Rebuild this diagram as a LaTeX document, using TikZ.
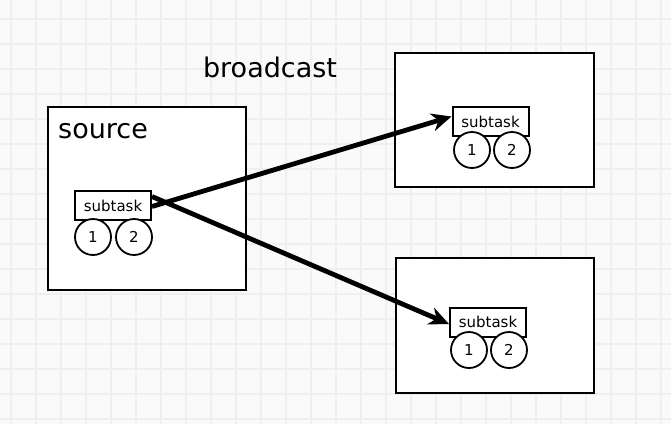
\documentclass[tikz,border=0pt]{standalone}
\usepackage{fontspec}
\setmainfont{DejaVu Sans}
\usetikzlibrary{arrows.meta}
\definecolor{bg}{HTML}{FAFAFA}
\definecolor{gridc}{HTML}{EFEFEF}
\tikzset{
  panel/.style={draw=black, line width=2.6pt, fill=white},
  taskbox/.style={draw=black, line width=2pt, fill=white, minimum width=76pt, minimum height=29pt, inner sep=0pt, font=\fontsize{15}{15}\selectfont},
  slot/.style={draw=black, line width=1.8pt, fill=white, circle, minimum size=36pt, inner sep=0pt, font=\fontsize{15}{15}\selectfont},
  bigtext/.style={font=\fontsize{27}{27}\selectfont, inner sep=0pt},
  flow/.style={line width=4.8pt, -{Stealth[length=20pt,width=18pt]}}
}
\begin{document}
\begin{tikzpicture}[x=1pt,y=-1pt]
\useasboundingbox (0,0) rectangle (671,424);
\fill[bg] (0,0) rectangle (671,424);
\foreach \gx in {11,36,...,671} \draw[gridc, line width=1.3pt] (\gx,0) -- (\gx,424);
\foreach \gy in {19,44,...,424} \draw[gridc, line width=1.3pt] (0,\gy) -- (671,\gy);

% panels
\draw[panel] (48,107) rectangle (246,290);
\draw[panel] (395,53) rectangle (594,187);
\draw[panel] (396,258) rectangle (594,393);

\node[bigtext, anchor=west] (srclabel) at (58,131) {source};
\node[bigtext] (bclabel) at (270,67) {broadcast};

% source subtask
\node[taskbox] (s) at (113,205.5) {subtask};
\node[slot] (s1) at (93,237) {1};
\node[slot] (s2) at (134,237) {2};

% top subtask
\node[taskbox] (t) at (490.5,121.5) {subtask};
\node[slot] (t1) at (472,150) {1};
\node[slot] (t2) at (512,150) {2};

% bottom subtask
\node[taskbox] (b) at (488,322) {subtask};
\node[slot] (b1) at (469,350) {1};
\node[slot] (b2) at (509,350) {2};

\coordinate (sa) at ([yshift=-1pt]s.east);
\coordinate (sb) at ([yshift=9pt]s.east);
\draw[flow] (sa) -- ([yshift=5pt]t.west);
\draw[flow] (sb) -- ([yshift=-2pt]b.west);
\end{tikzpicture}
\end{document}
